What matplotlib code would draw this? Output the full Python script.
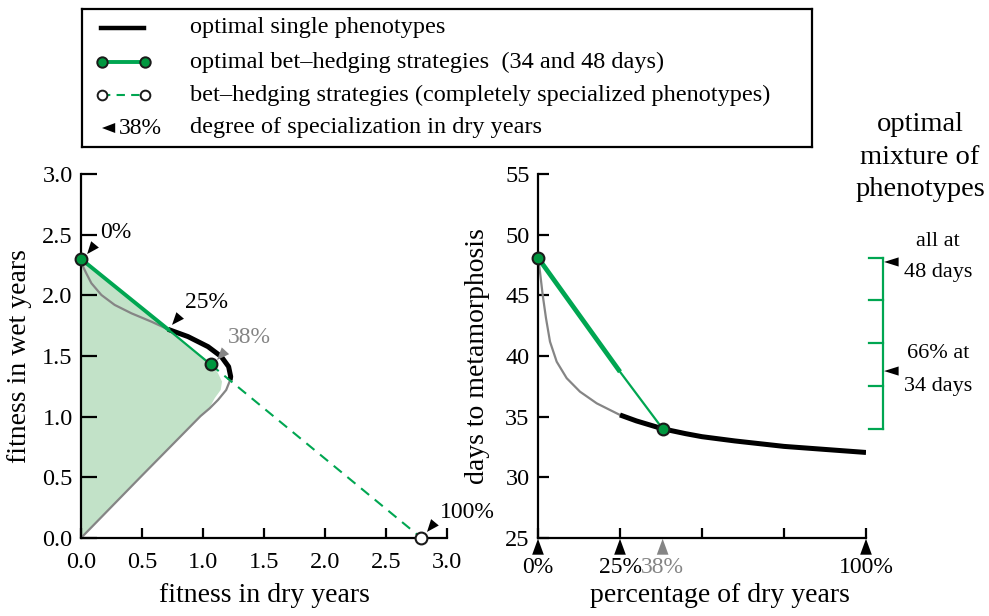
import numpy as np
import matplotlib.pyplot as plt
from matplotlib.patches import Polygon

plt.rcParams['font.family'] = ['Liberation Serif', 'DejaVu Serif']

# --- données : panneau gauche (fitness) ---
single_up_x = [0.0, 0.008, 0.02, 0.044, 0.085, 0.167, 0.276, 0.413, 0.577, 0.713]
single_up_y = [2.30, 2.27, 2.23, 2.18, 2.10, 2.003, 1.921, 1.852, 1.783, 1.72]
opt_x = [0.713, 0.877, 1.041, 1.15, 1.21, 1.227, 1.222]
opt_y = [1.720, 1.660, 1.577, 1.495, 1.412, 1.33, 1.30]
single_low_x = [1.222, 1.19, 1.123, 1.055, 0.98, 0.5, 0.0]
single_low_y = [1.30, 1.22, 1.138, 1.069, 1.005, 0.515, 0.0]
fill_x = [0.0, 0.5, 0.98, 1.055, 1.096, 1.145, 1.156, 1.123, 1.063, 0.0]
fill_y = [0.0, 0.515, 1.005, 1.075, 1.152, 1.22, 1.289, 1.358, 1.44, 2.30]
bh_x = [0.0, 0.713, 1.063, 2.79]
bh_y = [2.30, 1.72, 1.43, 0.0]

# --- données : panneau droit (jours) ---
gray_pct = [0.0, 0.6, 1.43, 2.44, 3.66, 5.7, 8.75, 12.8, 17.9, 21.95, 25.0]
gray_days = [48.1, 46.95, 45.03, 43.11, 41.18, 39.53, 38.17, 37.06, 36.1, 35.55, 35.14]
black_pct = [25, 30, 38, 45, 50, 60, 75, 90, 100]
black_days = [35.14, 34.65, 34.0, 33.6, 33.35, 33.0, 32.55, 32.25, 32.05]
bh_pct = [0.0, 25.0, 38.0]
bh_days = [48.1, 38.7, 34.0]
mix_ticks = [48.1, 44.575, 41.05, 37.525, 34.0]

GREEN = '#00a651'
DKGREEN = '#00973f'
FILL = '#c2e2c8'
GRAY = '#858585'

fig = plt.figure(figsize=(9.89, 6.16), dpi=100)
W, H = 989, 616


def arrowhead(ax, tip, tail, color='k', coords='data', hl=0.9, hw=0.36):
    ax.annotate('', xy=tip, xytext=tail, xycoords=coords, textcoords=coords,
                arrowprops=dict(arrowstyle=f'-|>,head_length={hl},head_width={hw}',
                                color=color, lw=0, shrinkA=0, shrinkB=0),
                annotation_clip=False)


def style_axes(ax, ylen):
    for s in ['top', 'right']:
        ax.spines[s].set_visible(False)
    for s in ['left', 'bottom']:
        ax.spines[s].set_linewidth(1.6)
    ax.tick_params(direction='in', width=1.6, labelsize=17.5)
    ax.tick_params(axis='y', length=ylen, pad=6)
    ax.tick_params(axis='x', length=7, pad=10)


# --- panneau gauche ---
ax1 = fig.add_axes([81 / W, 78 / H, 366 / W, 364 / H])
style_axes(ax1, 11.5)
ax1.set_xlim(0, 3)
ax1.set_ylim(0, 3)
ax1.set_xticks(np.arange(0, 3.01, 0.5))
ax1.set_yticks(np.arange(0, 3.01, 0.5))
ax1.xaxis.set_major_formatter(plt.FormatStrFormatter('%.1f'))
ax1.yaxis.set_major_formatter(plt.FormatStrFormatter('%.1f'))

ax1.add_patch(Polygon(np.column_stack([fill_x, fill_y]), closed=True,
                      facecolor=FILL, edgecolor='none', zorder=1))
ax1.plot(single_up_x, single_up_y, color=GRAY, lw=1.6, zorder=2)
ax1.plot(single_low_x, single_low_y, color=GRAY, lw=1.6, zorder=2)
ax1.plot(opt_x, opt_y, color='k', lw=3.6, solid_capstyle='butt', zorder=3)
ax1.plot(bh_x[:2], bh_y[:2], color=GREEN, lw=2.8, zorder=4)
ax1.plot(bh_x[1:3], bh_y[1:3], color=GREEN, lw=1.6, zorder=4)
ax1.plot(bh_x[2:], bh_y[2:], color=GREEN, lw=1.5, ls=(0, (5, 3.5)), zorder=4)
ax1.plot(bh_x[0], bh_y[0], 'o', ms=8.5, mfc=DKGREEN, mec='#1a1a1a', mew=1.5,
         clip_on=False, zorder=6)
ax1.plot(bh_x[2], bh_y[2], 'o', ms=8.5, mfc=DKGREEN, mec='#1a1a1a', mew=1.5,
         clip_on=False, zorder=6)
ax1.plot(bh_x[3], bh_y[3], 'o', ms=8.5, mfc='white', mec='#1a1a1a', mew=1.5,
         clip_on=False, zorder=6)

arrowhead(ax1, (0.05, 2.34), (0.14, 2.45))
arrowhead(ax1, (0.746, 1.756), (0.844, 1.87))
arrowhead(ax1, (1.115, 1.467), (1.213, 1.575), color=GRAY)
arrowhead(ax1, (2.836, 0.05), (2.91, 0.14))
ax1.text(0.156, 2.52, '0%', fontsize=17, va='center')
ax1.text(0.85, 1.945, '25%', fontsize=17, va='center')
ax1.text(1.205, 1.65, '38%', fontsize=17, va='center', color=GRAY)
ax1.text(2.94, 0.214, '100%', fontsize=17, va='center', clip_on=False)

ax1.set_xlabel('fitness in dry years', fontsize=20)
ax1.set_ylabel('fitness in wet years', fontsize=20)
ax1.xaxis.set_label_coords(0.5, -0.159)
ax1.xaxis.label.set_va('center')
ax1.yaxis.set_label_coords(-0.167, 0.5)
ax1.yaxis.label.set_va('center')

# --- panneau droit ---
ax2 = fig.add_axes([538 / W, 78 / H, 328 / W, 364 / H])
style_axes(ax2, 8)
ax2.set_xlim(0, 100)
ax2.set_ylim(25, 55)
ax2.set_xticks([0, 25, 50, 75, 100])
ax2.set_xticklabels([])
ax2.set_yticks(range(25, 56, 5))

ax2.plot(gray_pct, gray_days, color=GRAY, lw=1.6, zorder=2)
ax2.plot(black_pct, black_days, color='k', lw=3.6, solid_capstyle='butt', zorder=3)
ax2.plot(bh_pct[:2], bh_days[:2], color=GREEN, lw=3.4, solid_capstyle='butt', zorder=4)
ax2.plot(bh_pct[1:], bh_days[1:], color=GREEN, lw=1.6, zorder=4)
ax2.plot([bh_pct[0], bh_pct[2]], [bh_days[0], bh_days[2]], 'o', ms=8.5,
         mfc=DKGREEN, mec='#1a1a1a', mew=1.5, clip_on=False, zorder=6)

xtr = ax2.get_xaxis_transform()
pct_marks = [0, 25, 38, 100]
pct_cols = ['k', 'k', GRAY, 'k']
for p, c in zip(pct_marks, pct_cols):
    arrowhead(ax2, (p, -0.002), (p, -0.045), color=c, coords=xtr, hl=1.15, hw=0.42)
    ax2.text(p, -0.08, f'{p}%', transform=xtr, ha='center', va='center',
             fontsize=17, color=c)

# échelle du mélange de phénotypes
ax2.plot([105.2, 105.2], [mix_ticks[0], mix_ticks[-1]], color=GREEN, lw=1.6,
         clip_on=False)
for t in mix_ticks:
    ax2.plot([100.9, 105.2], [t, t], color=GREEN, lw=1.6, clip_on=False)
arrowhead(ax2, (105.5, 47.75), (110.5, 47.75), hl=1.05, hw=0.33)
arrowhead(ax2, (105.5, 38.76), (110.5, 38.76), hl=1.05, hw=0.33)
ax2.text(122, 49.4, 'all at', fontsize=16, ha='center', va='center')
ax2.text(122, 46.85, '48 days', fontsize=16, ha='center', va='center')
ax2.text(122, 40.17, '66% at', fontsize=16, ha='center', va='center')
ax2.text(122, 37.5, '34 days', fontsize=16, ha='center', va='center')
fig.text(920 / W, 1 - 157 / H, 'optimal\nmixture of\nphenotypes', fontsize=20.5,
         ha='center', va='center', linespacing=1.4)

ax2.set_xlabel('percentage of dry years', fontsize=20)
ax2.set_ylabel('days to metamorphosis', fontsize=20)
ax2.xaxis.set_label_coords(0.555, -0.159)
ax2.xaxis.label.set_va('center')
ax2.yaxis.set_label_coords(-0.183, 0.5)
ax2.yaxis.label.set_va('center')

# --- légende dessinée à la main ---
axl = fig.add_axes([82 / W, 1 - 147 / H, 730 / W, 138 / H])
axl.set_xlim(82, 812)
axl.set_ylim(147, 9)
axl.set_xticks([])
axl.set_yticks([])
for s in axl.spines.values():
    s.set_linewidth(1.6)
rows = [28, 62, 95, 128]
labels = ['optimal single phenotypes',
          'optimal bet\u2013hedging strategies  (34 and 48 days)',
          'bet\u2013hedging strategies (completely specialized phenotypes)',
          'degree of specialization in dry years']
axl.plot([101, 144], [rows[0]] * 2, color='k', lw=3.2)
axl.plot([102, 145], [rows[1]] * 2, color=GREEN, lw=2.8, marker='o', ms=7.5,
         mfc=DKGREEN, mec='#1a1a1a', mew=1.4)
axl.plot([102, 145], [rows[2]] * 2, color=GREEN, lw=1.5, ls=(0, (4, 3)))
axl.plot([102, 145], [rows[2]] * 2, 'o', ms=7, mfc='white', mec='#1a1a1a', mew=1.4)
arrowhead(axl, (102, rows[3]), (117, rows[3]), hl=0.95, hw=0.36)
axl.text(119, rows[3], '38%', fontsize=17, va='center')
for r, lab in zip(rows, labels):
    axl.text(190, r, lab, fontsize=17.5, va='center')

fig.savefig('out.png', dpi=100)
